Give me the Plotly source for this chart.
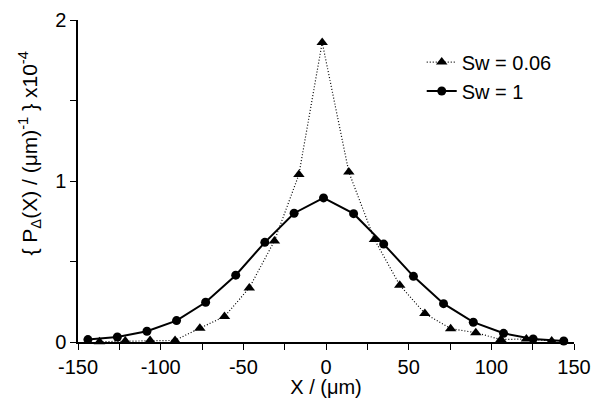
import plotly.graph_objects as go

# Sw = 1 (circles, solid line)
x_sw1 = [-144.0, -126.2, -108.3, -90.4, -72.8, -54.6, -37.0, -19.3, -1.5,
         16.7, 34.9, 52.9, 71.1, 89.1, 107.4, 125.3, 143.8]
y_sw1 = [0.015, 0.031, 0.067, 0.133, 0.247, 0.415, 0.619, 0.800, 0.895,
         0.797, 0.608, 0.408, 0.238, 0.123, 0.054, 0.019, 0.006]

# Sw = 0.06 (triangles, dotted line)
x_sw006 = [-137.0, -121.4, -106.4, -91.3, -76.3, -61.4, -46.4, -31.2, -16.4, -2.3,
           13.8, 29.3, 44.6, 59.8, 75.4, 90.6, 105.8, 121.2, 136.5]
y_sw006 = [0.002, 0.006, 0.010, 0.010, 0.086, 0.158, 0.336, 0.628, 1.040, 1.861,
           1.056, 0.637, 0.353, 0.177, 0.083, 0.058, 0.015, 0.019, 0.006]

x_ticks = [-150, -100, -50, 0, 50, 100, 150]
y_ticks = [0, 1, 2]

FONT = "Liberation Sans, Arial, Helvetica, sans-serif"

fig = go.Figure()
fig.add_trace(go.Scatter(
    x=x_sw006, y=y_sw006, mode="lines+markers", name="Sw = 0.06",
    line=dict(color="black", width=1.2, dash="1px,2px"),
    marker=dict(symbol="triangle-up", size=10, color="black"),
    cliponaxis=False,
))
fig.add_trace(go.Scatter(
    x=x_sw1, y=y_sw1, mode="lines+markers", name="Sw = 1",
    line=dict(color="black", width=2),
    marker=dict(symbol="circle", size=9, color="black"),
    cliponaxis=False,
))

fig.update_layout(
    width=594, height=398,
    margin=dict(l=78, r=20, t=20, b=56),
    paper_bgcolor="white", plot_bgcolor="white",
    font=dict(family=FONT, size=20, color="black"),
    showlegend=True,
    legend=dict(x=0.693, y=0.93, xanchor="left", yanchor="top",
                bgcolor="rgba(0,0,0,0)", font=dict(size=20),
                tracegroupgap=0, itemwidth=30),
    xaxis=dict(
        range=[-150, 150], tickvals=x_ticks, ticktext=[str(v) for v in x_ticks],
        automargin=False,
        showgrid=False, zeroline=False, showline=True, linecolor="black", linewidth=1.5,
        ticks="outside", ticklen=6, tickwidth=1.2, tickcolor="black",
        minor=dict(dtick=25, ticks="outside", ticklen=6, tickwidth=1.2, tickcolor="black"),
        title=dict(text="X / (μm)", font=dict(size=20), standoff=0),
        tickfont=dict(size=20),
    ),
    yaxis=dict(
        range=[0, 2], tickvals=y_ticks, ticktext=[str(v) for v in y_ticks],
        automargin=False,
        showgrid=False, zeroline=False, showline=True, linecolor="black", linewidth=1.5,
        ticks="outside", ticklen=6, tickwidth=1.2, tickcolor="black",
        minor=dict(dtick=0.5, ticks="outside", ticklen=6, tickwidth=1.2, tickcolor="black"),
        tickfont=dict(size=20),
    ),
    annotations=[dict(
        text="{ P<sub>Δ</sub>(X) / (μm)<sup>-1</sup> } x10<sup>-4</sup>",
        xref="paper", yref="paper", x=-0.097, y=0.585, textangle=-90,
        showarrow=False, font=dict(size=21), xanchor="center", yanchor="middle",
    )],
)

fig.write_html("out.html")
